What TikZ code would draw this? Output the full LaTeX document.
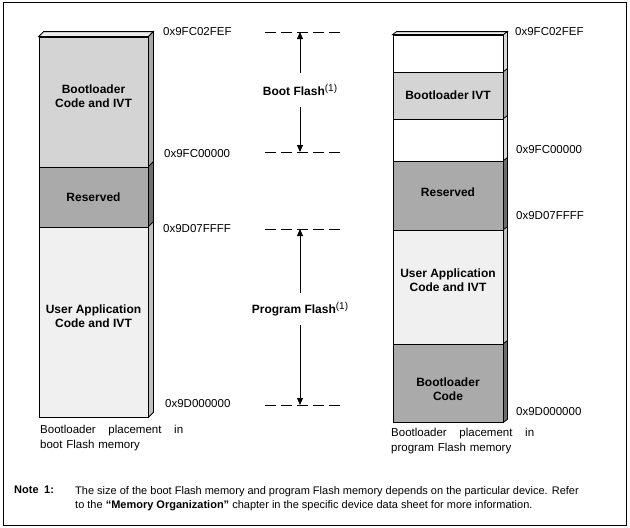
\documentclass[tikz,border=0pt]{standalone}
\usepackage{fontspec}
\setmainfont{Liberation Sans}
\usetikzlibrary{arrows.meta}

\definecolor{segWhite}{HTML}{FFFFFF}
\definecolor{segLight}{HTML}{D4D4D4}
\definecolor{segDark}{HTML}{AAAAAA}
\definecolor{segPale}{HTML}{F0F0F0}
\definecolor{sideWhite}{HTML}{D8D8D8}
\definecolor{sideLight}{HTML}{A8A8A8}
\definecolor{sideDark}{HTML}{6E6E6E}
\definecolor{sidePale}{HTML}{C0C0C0}
\definecolor{topFace}{HTML}{ECECEC}

\newcommand\noteref{\raisebox{4.5pt}{\fontsize{10}{10}\selectfont(1)}}

\tikzset{
  seg/.style={draw, line width=0.8pt, inner sep=0pt, minimum width=109},
  segtext/.style={font=\fontsize{12}{14}\selectfont\bfseries, align=center},
  addr/.style={anchor=west, inner sep=0pt, font=\fontsize{11.5}{14}\selectfont},
  flashlbl/.style={inner xsep=2pt, inner ysep=11pt, font=\fontsize{12}{14}\selectfont},
  flasharr/.style={line width=0.8pt, -{Triangle[length=7pt,width=6pt]}},
  guide/.style={line width=0.8pt, dash pattern=on 11pt off 5pt},
  caption/.style={anchor=north west, inner sep=0pt, text width=143pt, align=left,
    font=\fontsize{11.5}{14.5}\selectfont},
}

\begin{document}
\begin{tikzpicture}[x=1pt, y=-1pt]
  \useasboundingbox (0,0) rectangle (630,528);
  % outer frame
  \draw[line width=0.8pt] (3,2) rectangle (626,525);

  % left column - boot Flash placement
  \node[seg, fill=segLight, minimum height=130] (bootl) at (93.5,102) {};
  \node[seg, fill=segDark, minimum height=60] (resv) at (93.5,197) {};
  \node[seg, fill=segPale, minimum height=190] (user) at (93.5,322) {};
  \draw[line width=0.8pt, fill=topFace] (bootl.north west) -- ++(5,-5)
    -- ([shift={(5,-5)}]bootl.north east) -- (bootl.north east) -- cycle;
  \foreach \s/\c in {bootl/sideLight, resv/sideDark, user/sidePale}
    \draw[line width=0.8pt, fill=\c] (\s.south east) -- (\s.north east) -- ++(5,-5)
      -- ([shift={(5,-5)}]\s.south east) -- cycle;
  \node[segtext] (tbootl) at ([yshift=6]bootl.center) {Bootloader\\Code and IVT};
  \node[segtext] (tresv) at (resv.center) {Reserved};
  \node[segtext] (tuser) at ([yshift=6]user.center) {User Application\\Code and IVT};

  % right column - program Flash placement
  \node[seg, fill=segWhite, minimum width=110, minimum height=37] (wa) at (448,53.5) {};
  \node[seg, fill=segLight, minimum width=110, minimum height=47] (bivt) at (448,95.5) {};
  \node[seg, fill=segWhite, minimum width=110, minimum height=42] (wb) at (448,140) {};
  \node[seg, fill=segDark, minimum width=110, minimum height=69] (resvb) at (448,195.5) {};
  \node[seg, fill=segPale, minimum width=110, minimum height=114] (userb) at (448,287) {};
  \node[seg, fill=segDark, minimum width=110, minimum height=78] (bcode) at (448,383) {};
  \draw[line width=0.8pt, fill=topFace] (wa.north west) -- ++(4,-3)
    -- ([shift={(4,-3)}]wa.north east) -- (wa.north east) -- cycle;
  \foreach \s/\c in {wa/sideWhite, bivt/sideLight, wb/sideWhite, resvb/sideDark,
                     userb/sidePale, bcode/sideDark}
    \draw[line width=0.8pt, fill=\c] (\s.south east) -- (\s.north east) -- ++(4,-3)
      -- ([shift={(4,-3)}]\s.south east) -- cycle;
  \node[segtext] (tbivt) at (bivt.center) {Bootloader IVT};
  \node[segtext] (tresvb) at ([yshift=3]resvb.center) {Reserved};
  \node[segtext] (tuserb) at ([yshift=7]userb.center) {User Application\\Code and IVT};
  \node[segtext] (tbcode) at ([yshift=-6]bcode.center) {Bootloader\\Code};

  % addresses
  \node[addr] (la1) at (163,32) {0x9FC02FEF};
  \node[addr] (la2) at (164,154) {0x9FC00000};
  \node[addr] (la3) at (163,229) {0x9D07FFFF};
  \node[addr] (la4) at (165,404) {0x9D000000};
  \node[addr] (ra1) at (515,32) {0x9FC02FEF};
  \node[addr] (ra2) at (516,150) {0x9FC00000};
  \node[addr] (ra3) at (516,216) {0x9D07FFFF};
  \node[addr] (ra4) at (516,412) {0x9D000000};

  % flash ranges
  \coordinate (bftop) at (300,32);
  \coordinate (bfbot) at (300,152);
  \coordinate (pftop) at (300,229);
  \coordinate (pfbot) at (300,405);
  \foreach \p in {bftop, bfbot, pftop, pfbot}
    \draw[guide] ([xshift=-35]\p) -- ([xshift=45]\p);
  \node[flashlbl] (bflbl) at (300,90) {\textbf{Boot Flash}\noteref};
  \node[flashlbl, inner ysep=9pt] (pflbl) at (300,309) {\textbf{Program Flash}\noteref};
  \draw[flasharr] (bflbl.north -| bftop) -- (bftop);
  \draw[flasharr] (bflbl.south -| bfbot) -- (bfbot);
  \draw[flasharr] (pflbl.north -| pftop) -- (pftop);
  \draw[flasharr] (pflbl.south -| pfbot) -- (pfbot);

  % captions
  \node[caption] (capl) at (40,425) {Bootloader\hfill placement\hfill in\\boot Flash memory};
  \node[caption] (capr) at (391,428) {Bootloader\hfill placement\hfill in\\program Flash memory};

  % note
  \node[anchor=north west, inner sep=0pt, font=\fontsize{11}{14}\selectfont\bfseries]
    (notehd) at (14,486) {Note\enspace 1:};
  \node[anchor=north west, inner sep=0pt, align=left, font=\fontsize{11}{14}\selectfont]
    (notetxt) at (75,486) {The size of the boot Flash memory and program Flash memory depends on the particular device. Refer\\
    to the \textbf{``Memory Organization''} chapter in the specific device data sheet for more information.};
\end{tikzpicture}
\end{document}
